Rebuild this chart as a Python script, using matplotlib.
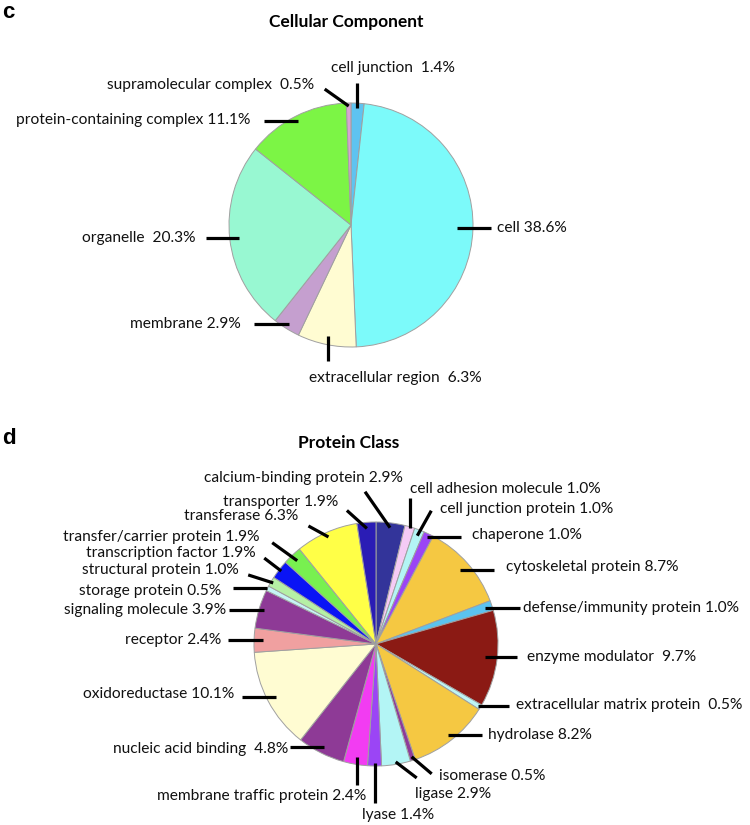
import numpy as np
import matplotlib.pyplot as plt

plt.rcParams["font.family"] = ["Lato", "DejaVu Sans"]

# ---- data -------------------------------------------------------------
cc_names = ["cell junction", "cell", "extracellular region", "membrane",
            "organelle", "protein-containing complex", "supramolecular complex"]
cc_values = [1.4, 38.6, 6.3, 2.9, 20.3, 11.1, 0.5]
cc_colors = ["#5EC3F0", "#7CFAFA", "#FFFCD2", "#C59FCF",
             "#98F8D2", "#7CF545", "#D9A2D2"]

pc_names = ["calcium-binding protein", "cell adhesion molecule", "cell junction protein",
            "chaperone", "cytoskeletal protein", "defense/immunity protein",
            "enzyme modulator", "extracellular matrix protein", "hydrolase",
            "isomerase", "ligase", "lyase", "membrane traffic protein",
            "nucleic acid binding", "oxidoreductase", "receptor", "signaling molecule",
            "storage protein", "structural protein", "transcription factor",
            "transfer/carrier protein", "transferase", "transporter"]
pc_values = [2.9, 1.0, 1.0, 1.0, 8.7, 1.0, 9.7, 0.5, 8.2, 0.5, 2.9, 1.4, 2.4,
             4.8, 10.1, 2.4, 3.9, 0.5, 1.0, 1.9, 1.9, 6.3, 1.9]
pc_colors = ["#33349A", "#F5CBF5", "#B3F5F5", "#9B45F5", "#F5C842", "#5BC3F0",
             "#8B1A14", "#BDF5F5", "#F5C842", "#8E3A9A", "#B3F5F5", "#9B45F5",
             "#F23CF2", "#8E3A96", "#FFFCD2", "#F0A0A0", "#8E3A96", "#C5F5F5",
             "#B5F0A5", "#0A14F5", "#78F050", "#FFFF47", "#2A1CB5"]

wide_gap = {"cell junction", "organelle", "supramolecular complex",
            "extracellular region", "enzyme modulator",
            "extracellular matrix protein", "nucleic acid binding"}

# ---- label layout (radius fraction, leader vector px, text offset px, align)
cc_layout = [
    (0.96, (0, 25), (-26, 15), "left"),
    (0.87, (34, 0), (6, 0), "left"),
    (0.93, (0, -25), (-19, -17), "left"),
    (0.96, (-35, 0), (-13, 0), "right"),
    (0.92, (-33, 0), (-11, 0), "right"),
    (0.96, (-34, 0), (-14, 1), "right"),
    (0.975, (-24, 17), (-11, 4), "right"),
]
pc_layout = [
    (0.96, (-25, 36), (38, 14), "right"),
    (0.99, (0, 30), (0, 9), "left"),
    (0.95, (14, 25), (9, 2), "left"),
    (0.975, (34, 0), (11, 2), "left"),
    (0.915, (34, 0), (12, 3), "left"),
    (0.94, (35, 0), (3, 0), "left"),
    (0.90, (32, 0), (10, 0), "left"),
    (0.98, (31, 0), (7, 1), "left"),
    (0.95, (34, 0), (6, 0), "left"),
    (0.97, (20, -17), (7, -2), "left"),
    (0.98, (21, -16), (-2, -16), "left"),
    (0.975, (0, -40), (-13, -12), "left"),
    (0.94, (0, -28), (10, -11), "right"),
    (0.95, (-34, 0), (-1, -2), "right"),
    (0.93, (-34, 0), (-7, 3), "right"),
    (0.93, (-35, 0), (-6, 0), "right"),
    (0.96, (-35, 0), (-3, 0), "right"),
    (1.00, (-34, 0), (-12, -3), "right"),
    (0.98, (-25, 8), (-9, 5), "right"),
    (0.98, (-17, 13), (-9, 5), "right"),
    (0.94, (-25, 18), (-13, 6), "right"),
    (0.96, (-20, 11), (-10, 10), "right"),
    (0.95, (-20, 18), (-9, 8), "right"),
]

W, H = 750, 825
fig = plt.figure(figsize=(W / 100, H / 100), dpi=100)
ax = fig.add_axes([0, 0, 1, 1])


def draw_pie(names, values, colors, layout, center, radius):
    wedges, _ = ax.pie(values, colors=colors, center=center, radius=radius,
                       startangle=90, counterclock=False, frame=True,
                       wedgeprops=dict(edgecolor="#a0a0a0", linewidth=0.7))
    for w, name, val, (r, (lx, ly), (tx, ty), ha) in zip(wedges, names, values, layout):
        mid = np.deg2rad((w.theta1 + w.theta2) / 2)
        x0 = center[0] + r * radius * np.cos(mid)
        y0 = center[1] + r * radius * np.sin(mid)
        x1, y1 = x0 + lx, y0 + ly
        ax.plot([x0, x1], [y0, y1], color="black", lw=2.3, solid_capstyle="butt")
        sep = "  " if name in wide_gap else " "
        ax.text(x1 + tx, y1 + ty, f"{name}{sep}{val:.1f}%", ha=ha, va="center",
                fontsize=11.2, color="#111111")


draw_pie(cc_names, cc_values, cc_colors, cc_layout, (351, H - 225), 122)
draw_pie(pc_names, pc_values, pc_colors, pc_layout, (376, H - 644), 122)

ax.text(346, H - 22, "Cellular Component", ha="center", va="center",
        fontsize=12.5, fontweight="bold")
ax.text(349, H - 443, "Protein Class", ha="center", va="center",
        fontsize=12.5, fontweight="bold")
ax.text(2, H - 12, "c", ha="left", va="center", fontsize=16, fontweight="bold",
        family="Liberation Sans")
ax.text(2, H - 438, "d", ha="left", va="center", fontsize=16, fontweight="bold",
        family="Liberation Sans")

ax.set_xlim(0, W)
ax.set_ylim(0, H)
ax.set_aspect("equal")
ax.axis("off")

fig.savefig("out.png", dpi=100)
